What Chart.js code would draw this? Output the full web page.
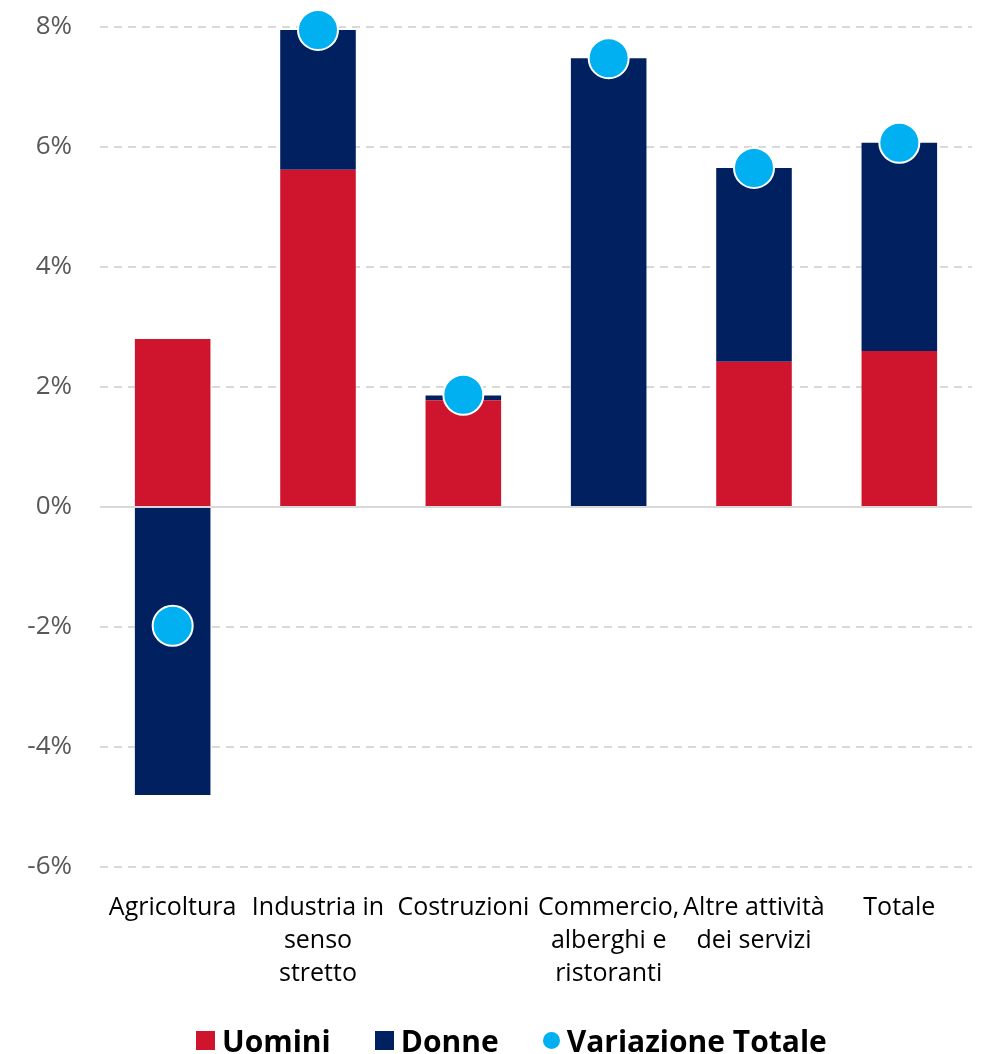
<!DOCTYPE html>
<html lang="it">
<head>
    <meta charset="UTF-8">
    <title>Variazione occupati per settore</title>
    <script src="https://cdn.jsdelivr.net/npm/chart.js@4.4.0/dist/chart.umd.min.js"></script>
    <style>
        html, body { margin: 0; padding: 0; background: #fff; }
        .chart-wrap { position: relative; width: 981px; height: 1054px; }
        #legend {
            position: absolute; left: 196px; top: 1020px; height: 40px;
            display: flex; align-items: center;
            font-family: 'Open Sans', 'Noto Sans', sans-serif;
            font-size: 30px; font-weight: bold; color: #000;
        }
        #legend .item { display: flex; align-items: center; margin-right: 44px; white-space: nowrap; }
        #legend .item:last-child { margin-right: 0; }
        #legend .box { width: 19px; height: 19px; margin-right: 7px; }
        #legend .dot { width: 17px; height: 17px; border-radius: 50%; margin-right: 7px; }
    </style>
</head>
<body>
    <div class="chart-wrap">
        <canvas id="chart"></canvas>
        <div id="legend"></div>
    </div>
    <script>
        // dati (punti percentuali)
        const categories = [
            'Agricoltura',
            ['Industria in', 'senso', 'stretto'],
            'Costruzioni',
            ['Commercio,', 'alberghi e', 'ristoranti'],
            ['Altre attività', 'dei servizi'],
            'Totale'
        ];
        const uomini = [2.8, 5.62, 1.78, 0, 2.42, 2.6];
        const donne = [-4.8, 2.33, 0.08, 7.48, 3.23, 3.47];
        const variazioneTotale = [-1.98, 7.95, 1.87, 7.48, 5.65, 6.07];
        const yTicks = [-6, -4, -2, 0, 2, 4, 6, 8];

        const FONT = "'Open Sans', 'Noto Sans', sans-serif";

        // linea dello zero continua
        const zeroLine = {
            id: 'zeroLine',
            beforeDatasetsDraw(chart) {
                const y = chart.scales.y.getPixelForValue(0);
                const { left, right } = chart.chartArea;
                const ctx = chart.ctx;
                ctx.save();
                ctx.strokeStyle = '#d9d9d9';
                ctx.lineWidth = 2;
                ctx.beginPath();
                ctx.moveTo(left, y);
                ctx.lineTo(right, y);
                ctx.stroke();
                ctx.restore();
            }
        };

        const chart = new Chart(document.getElementById('chart'), {
            data: {
                labels: categories,
                datasets: [
                    {
                        type: 'bar',
                        label: 'Uomini',
                        data: uomini,
                        backgroundColor: '#cf152d',
                        stack: 'occ',
                        categoryPercentage: 1,
                        barPercentage: 0.52
                    },
                    {
                        type: 'bar',
                        label: 'Donne',
                        data: donne,
                        backgroundColor: '#002060',
                        stack: 'occ',
                        categoryPercentage: 1,
                        barPercentage: 0.52
                    },
                    {
                        type: 'line',
                        label: 'Variazione Totale',
                        data: variazioneTotale,
                        stack: 'tot',
                        showLine: false,
                        clip: false,
                        order: -1,
                        pointStyle: 'circle',
                        pointRadius: 20,
                        pointHoverRadius: 20,
                        pointBackgroundColor: '#00b0f0',
                        pointBorderColor: '#ffffff',
                        pointBorderWidth: 2,
                        backgroundColor: '#00b0f0',
                        borderColor: '#00b0f0'
                    }
                ]
            },
            options: {
                responsive: true,
                maintainAspectRatio: false,
                animation: false,
                layout: { autoPadding: false, padding: { top: 27, right: 9, left: 0, bottom: 59 } },
                plugins: {
                    tooltip: { enabled: false },
                    legend: { display: false }
                },
                scales: {
                    x: {
                        stacked: true,
                        grid: {
                            display: true,
                            drawOnChartArea: false,
                            drawTicks: true,
                            tickLength: 24,
                            tickColor: 'rgba(0,0,0,0)',
                            color: 'rgba(0,0,0,0)'
                        },
                        border: { display: false },
                        ticks: {
                            color: '#000',
                            padding: 0,
                            maxRotation: 0,
                            autoSkip: false,
                            font: { family: FONT, size: 25, lineHeight: 1.32 }
                        },
                        afterFit(scale) { scale.height = 128; }
                    },
                    y: {
                        stacked: true,
                        min: -6,
                        max: 8,
                        afterBuildTicks(scale) {
                            scale.ticks = yTicks.map(v => ({ value: v }));
                        },
                        grid: {
                            color: ctx => ctx.tick && ctx.tick.value === 0 ? 'rgba(0,0,0,0)' : '#d9d9d9',
                            lineWidth: 2,
                            drawTicks: true,
                            tickLength: 28,
                            tickColor: 'rgba(0,0,0,0)'
                        },
                        border: { display: false, dash: [8, 6] },
                        ticks: {
                            color: '#595959',
                            padding: 0,
                            callback: v => v + '%',
                            font: { family: FONT, size: 26 }
                        },
                        afterFit(scale) { scale.width = 100; }
                    }
                }
            },
            plugins: [zeroLine]
        });

        // legenda HTML costruita dai dataset
        const legend = document.getElementById('legend');
        chart.data.datasets.forEach(ds => {
            const item = document.createElement('span');
            item.className = 'item';
            const mark = document.createElement('span');
            mark.className = ds.type === 'line' ? 'dot' : 'box';
            mark.style.background = ds.type === 'line' ? ds.pointBackgroundColor : ds.backgroundColor;
            item.appendChild(mark);
            item.appendChild(document.createTextNode(ds.label));
            legend.appendChild(item);
        });
    </script>
</body>
</html>
